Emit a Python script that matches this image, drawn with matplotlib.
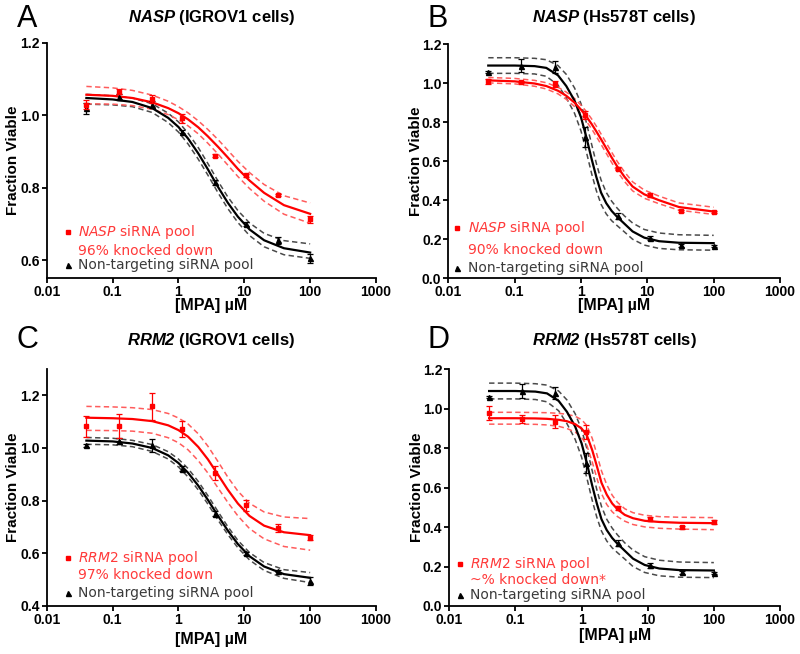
import matplotlib
matplotlib.use("Agg")
import matplotlib.pyplot as plt
from matplotlib.ticker import FixedLocator, NullLocator, FormatStrFormatter

plt.rcParams['font.family'] = ['Liberation Sans', 'DejaVu Sans']
plt.rcParams['mathtext.fontset'] = 'custom'
plt.rcParams['mathtext.rm'] = 'DejaVu Sans'
plt.rcParams['mathtext.it'] = 'DejaVu Sans:italic'
plt.rcParams['mathtext.bf'] = 'Liberation Sans:bold:italic'

# --- data --------------------------------------------------------------
dose = [0.04, 0.125, 0.4, 1.15, 3.6, 10.8, 32.5, 100]

# fitted curves
curve_x_ac = [0.04, 0.1, 0.2, 0.4, 0.7, 1.0, 1.4, 2.0, 2.8, 4.0, 5.6, 8, 12, 20, 40, 100]
curve_x_bd = [0.04, 0.1, 0.2, 0.3, 0.45, 0.6, 0.8, 1.0, 1.2, 1.45, 1.7, 2.0, 2.4, 2.9,
              3.5, 4.5, 6, 9, 15, 30, 100]

# A: NASP, IGROV1
a_red_y = [1.03, 1.065, 1.045, 0.992, 0.888, 0.835, 0.78, 0.713]
a_red_err = [0.012, 0.007, 0.012, 0.013, 0.004, 0.004, 0.004, 0.01]
a_blk_y = [1.02, 1.05, 1.03, 0.955, 0.815, 0.70, 0.655, 0.605]
a_blk_err = [0.015, 0.008, 0.01, 0.005, 0.006, 0.005, 0.01, 0.012]
a_red_fit = [1.057, 1.054, 1.048, 1.036, 1.020, 1.006, 0.989, 0.967, 0.942, 0.913, 0.884,
             0.852, 0.820, 0.786, 0.752, 0.728]
a_red_hi = [1.080, 1.076, 1.069, 1.056, 1.039, 1.024, 1.007, 0.985, 0.961, 0.933, 0.904,
            0.873, 0.842, 0.809, 0.778, 0.758]
a_red_lo = [1.032, 1.031, 1.027, 1.017, 1.002, 0.988, 0.971, 0.949, 0.923, 0.893, 0.863,
            0.831, 0.798, 0.763, 0.727, 0.702]
a_blk_fit = [1.048, 1.044, 1.037, 1.020, 0.993, 0.968, 0.936, 0.895, 0.851, 0.802, 0.759,
             0.720, 0.685, 0.655, 0.633, 0.621]
a_blk_hi = [1.058, 1.054, 1.048, 1.032, 1.006, 0.982, 0.951, 0.911, 0.867, 0.818, 0.775,
            0.737, 0.703, 0.674, 0.654, 0.645]
a_blk_lo = [1.031, 1.029, 1.024, 1.008, 0.980, 0.954, 0.921, 0.879, 0.835, 0.786, 0.743,
            0.704, 0.668, 0.637, 0.615, 0.605]

# C: RRM2, IGROV1
c_red_y = [1.083, 1.083, 1.158, 1.071, 0.905, 0.782, 0.697, 0.66]
c_red_err = [0.04, 0.045, 0.05, 0.03, 0.025, 0.02, 0.015, 0.01]
c_blk_y = [1.01, 1.027, 1.01, 0.922, 0.751, 0.60, 0.533, 0.495]
c_blk_err = [0.005, 0.01, 0.025, 0.01, 0.008, 0.005, 0.005, 0.015]
c_red_fit = [1.115, 1.113, 1.110, 1.102, 1.086, 1.068, 1.043, 1.004, 0.957, 0.898, 0.842,
             0.789, 0.742, 0.705, 0.680, 0.669]
c_red_hi = [1.158, 1.156, 1.153, 1.146, 1.131, 1.114, 1.091, 1.054, 1.007, 0.948, 0.890,
            0.836, 0.790, 0.757, 0.738, 0.732]
c_red_lo = [1.067, 1.066, 1.064, 1.056, 1.039, 1.020, 0.993, 0.952, 0.905, 0.848, 0.794,
            0.742, 0.694, 0.655, 0.626, 0.612]
c_blk_fit = [1.028, 1.025, 1.017, 1.000, 0.972, 0.943, 0.906, 0.857, 0.803, 0.742, 0.687,
             0.635, 0.589, 0.550, 0.521, 0.507]
c_blk_hi = [1.040, 1.037, 1.029, 1.013, 0.986, 0.958, 0.922, 0.873, 0.819, 0.758, 0.702,
            0.649, 0.603, 0.565, 0.538, 0.527]
c_blk_lo = [1.014, 1.012, 1.005, 0.987, 0.958, 0.928, 0.890, 0.841, 0.787, 0.726, 0.672,
            0.621, 0.575, 0.535, 0.505, 0.489]

# Hs578T non-targeting control (same in B and D)
hs_blk_y = [1.058, 1.09, 1.081, 0.724, 0.32, 0.207, 0.17, 0.165]
hs_blk_err = [0.005, 0.035, 0.03, 0.05, 0.015, 0.012, 0.008, 0.005]
hs_blk_fit = [1.09, 1.09, 1.087, 1.078, 1.04, 0.985, 0.91, 0.825, 0.725, 0.61, 0.52, 0.44,
              0.385, 0.345, 0.315, 0.28, 0.24, 0.208, 0.19, 0.182, 0.18]
hs_blk_hi = [1.13, 1.13, 1.127, 1.12, 1.09, 1.045, 0.975, 0.895, 0.80, 0.685, 0.59, 0.505,
             0.44, 0.395, 0.36, 0.32, 0.283, 0.25, 0.232, 0.223, 0.22]
hs_blk_lo = [1.05, 1.05, 1.047, 1.035, 0.99, 0.925, 0.845, 0.755, 0.65, 0.535, 0.45, 0.38,
             0.33, 0.295, 0.27, 0.238, 0.2, 0.17, 0.153, 0.146, 0.144]

# B: NASP, Hs578T
b_red_y = [1.01, 1.005, 0.995, 0.838, 0.561, 0.427, 0.347, 0.338]
b_red_err = [0.012, 0.006, 0.015, 0.02, 0.008, 0.008, 0.005, 0.005]
b_red_fit = [1.014, 1.009, 0.998, 0.985, 0.961, 0.935, 0.900, 0.864, 0.830, 0.790, 0.753,
             0.713, 0.667, 0.619, 0.574, 0.521, 0.47, 0.43, 0.40, 0.365, 0.342]
b_red_hi = [1.029, 1.024, 1.014, 1.002, 0.979, 0.954, 0.921, 0.887, 0.855, 0.816, 0.780,
            0.740, 0.694, 0.646, 0.600, 0.546, 0.494, 0.452, 0.421, 0.386, 0.364]
b_red_lo = [1.001, 0.996, 0.984, 0.970, 0.945, 0.917, 0.880, 0.842, 0.806, 0.765, 0.727,
            0.687, 0.641, 0.593, 0.549, 0.497, 0.448, 0.41, 0.382, 0.349, 0.327]

# D: RRM2, Hs578T
d_red_y = [0.977, 0.948, 0.935, 0.884, 0.495, 0.44, 0.399, 0.424]
d_red_err = [0.035, 0.02, 0.035, 0.035, 0.01, 0.01, 0.008, 0.01]
d_red_fit = [0.952, 0.952, 0.951, 0.949, 0.944, 0.937, 0.922, 0.9, 0.866, 0.79, 0.71, 0.625,
             0.565, 0.52, 0.49, 0.462, 0.445, 0.432, 0.426, 0.422, 0.42]
d_red_hi = [0.982, 0.982, 0.981, 0.98, 0.977, 0.972, 0.962, 0.945, 0.915, 0.85, 0.77, 0.685,
            0.615, 0.562, 0.525, 0.493, 0.473, 0.46, 0.453, 0.45, 0.448]
d_red_lo = [0.922, 0.922, 0.921, 0.918, 0.911, 0.9, 0.882, 0.855, 0.815, 0.73, 0.65, 0.57,
            0.515, 0.478, 0.453, 0.43, 0.413, 0.401, 0.394, 0.39, 0.387]

x_ticks = [0.01, 0.1, 1, 10, 100, 1000]
x_tick_labels = ['0.01', '0.1', '1', '10', '100', '1000']

RED = '#ff0000'
RED_DASH = '#ff5c5c'
RED_TXT = '#ff3a3a'
BLK_DASH = '#4a4a4a'
BLK_TXT = '#3a3a3a'

fig = plt.figure(figsize=(8, 6.54), dpi=100)


def panel(rect, cx, red, blk, red_pts, blk_pts, ylim, yticks, gene, cells, kd,
          letter, letter_xy, title_xy, leg, ylab_x, xlab_y):
    ax = fig.add_axes(rect)
    red_fit, red_hi, red_lo = red
    blk_fit, blk_hi, blk_lo = blk

    ax.plot(cx, blk_hi, color=BLK_DASH, lw=1.1, dashes=(3.5, 2.2), zorder=2)
    ax.plot(cx, blk_lo, color=BLK_DASH, lw=1.1, dashes=(3.5, 2.2), zorder=2)
    ax.plot(cx, red_hi, color=RED_DASH, lw=1.1, dashes=(3.5, 2.2), zorder=2)
    ax.plot(cx, red_lo, color=RED_DASH, lw=1.1, dashes=(3.5, 2.2), zorder=2)
    ax.plot(cx, blk_fit, color='black', lw=1.6, zorder=3)
    ax.plot(cx, red_fit, color=RED, lw=1.6, zorder=3)

    ax.errorbar(dose, blk_pts[0], yerr=blk_pts[1], fmt='^', ms=3.6, color='black',
                ecolor='black', elinewidth=0.9, capsize=2.5, capthick=0.9, zorder=4)
    ax.errorbar(dose, red_pts[0], yerr=red_pts[1], fmt='s', ms=3.3, color=RED,
                ecolor=RED, elinewidth=0.9, capsize=2.5, capthick=0.9, zorder=5)

    ax.set_xscale('log')
    ax.set_xlim(0.01, 1000)
    ax.set_ylim(*ylim)
    ax.xaxis.set_major_locator(FixedLocator(x_ticks))
    ax.xaxis.set_minor_locator(NullLocator())
    ax.set_xticklabels(x_tick_labels)
    ax.yaxis.set_major_locator(FixedLocator(yticks))
    ax.yaxis.set_major_formatter(FormatStrFormatter('%.1f'))

    for s in ['top', 'right']:
        ax.spines[s].set_visible(False)
    for s in ['left', 'bottom']:
        ax.spines[s].set_linewidth(1.3)
    ax.tick_params(direction='out', length=3.5, width=1.3, pad=1.5, labelsize=10)
    for lab in ax.get_xticklabels() + ax.get_yticklabels():
        lab.set_fontweight('bold')

    ax.set_ylabel('Fraction Viable', fontsize=11, fontweight='bold')
    ax.yaxis.set_label_coords(ylab_x, 0.5)
    ax.set_xlabel('[MPA] µM', fontsize=11.5, fontweight='bold')
    ax.xaxis.set_label_coords(0.5, xlab_y)
    ax.xaxis.label.set_va('top')

    # legend drawn as text lines
    mx, tx, y1, y2, y3 = leg
    ax.plot([mx], [y1], 's', ms=3.3, color=RED, transform=ax.transAxes, clip_on=False)
    ax.text(tx, y1, r'$\mathit{%s}$ siRNA pool' % gene, transform=ax.transAxes,
            color=RED_TXT, fontsize=10, va='center', ha='left', family='DejaVu Sans')
    ax.text(tx, y2, kd, transform=ax.transAxes, color=RED_TXT, fontsize=10,
            va='center', ha='left', family='DejaVu Sans')
    ax.plot([mx], [y3], '^', ms=3.6, color='black', transform=ax.transAxes, clip_on=False)
    ax.text(tx, y3, 'Non-targeting siRNA pool', transform=ax.transAxes,
            color=BLK_TXT, fontsize=10, va='center', ha='left', family='DejaVu Sans')

    fig.text(title_xy[0], title_xy[1], r'$\mathbf{%s}$ (%s)' % (gene, cells),
             fontsize=12, fontweight='bold', ha='center', va='baseline')
    fig.text(letter_xy[0], letter_xy[1], letter, fontsize=22, ha='left', va='baseline')
    return ax


panel([0.0584, 0.5745, 0.4116, 0.3598], curve_x_ac,
      (a_red_fit, a_red_hi, a_red_lo), (a_blk_fit, a_blk_hi, a_blk_lo),
      (a_red_y, a_red_err), (a_blk_y, a_blk_err),
      (0.55, 1.2), [0.6, 0.8, 1.0, 1.2], 'NASP', 'IGROV1 cells', '96% knocked down',
      'A', (0.021, 0.9587), (0.2644, 0.9667),
      (0.066, 0.094, 0.196, 0.117, 0.057), -0.082, -0.085)

panel([0.5604, 0.5745, 0.4146, 0.3581], curve_x_bd,
      (b_red_fit, b_red_hi, b_red_lo), (hs_blk_fit, hs_blk_hi, hs_blk_lo),
      (b_red_y, b_red_err), (hs_blk_y, hs_blk_err),
      (0.0, 1.2), [0.0, 0.2, 0.4, 0.6, 0.8, 1.0, 1.2], 'NASP', 'Hs578T cells',
      '90% knocked down',
      'B', (0.535, 0.9587), (0.7675, 0.9667),
      (0.027, 0.06, 0.214, 0.121, 0.043), -0.077, -0.085)

panel([0.0584, 0.0734, 0.4116, 0.3624], curve_x_ac,
      (c_red_fit, c_red_hi, c_red_lo), (c_blk_fit, c_blk_hi, c_blk_lo),
      (c_red_y, c_red_err), (c_blk_y, c_blk_err),
      (0.4, 1.3), [0.4, 0.6, 0.8, 1.0, 1.2], 'RRM2', 'IGROV1 cells', '97% knocked down',
      'C', (0.021, 0.4679), (0.2644, 0.4725),
      (0.066, 0.094, 0.201, 0.131, 0.056), -0.082, -0.11)

panel([0.5616, 0.0734, 0.4134, 0.3619], curve_x_bd,
      (d_red_fit, d_red_hi, d_red_lo), (hs_blk_fit, hs_blk_hi, hs_blk_lo),
      (d_red_y, d_red_err), (hs_blk_y, hs_blk_err),
      (0.0, 1.2), [0.0, 0.2, 0.4, 0.6, 0.8, 1.0, 1.2], 'RRM2', 'Hs578T cells',
      '~% knocked down*',
      'D', (0.535, 0.4679), (0.768, 0.4725),
      (0.032, 0.063, 0.176, 0.108, 0.047), -0.077, -0.095)

fig.savefig('out.png', dpi=100)
